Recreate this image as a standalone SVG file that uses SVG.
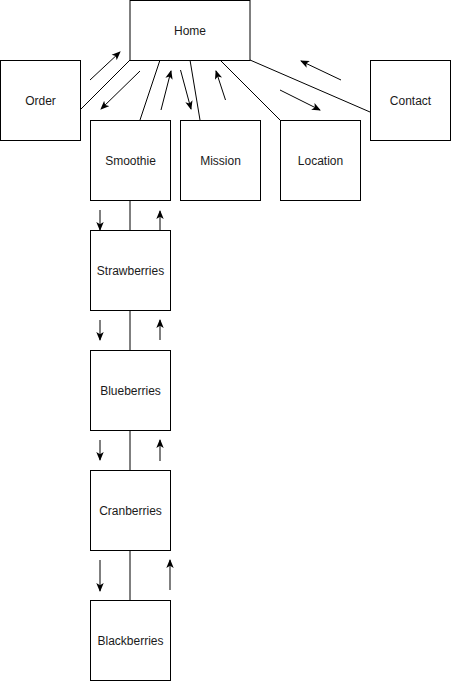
<svg xmlns="http://www.w3.org/2000/svg" width="451" height="681" viewBox="0 0 451 681">
<style>
.n rect{fill:#fff;stroke:#000;stroke-width:1}
.n text{font-family:"Liberation Sans",Arial,sans-serif;font-size:12px;fill:#1a1a1a;text-anchor:middle;dominant-baseline:central}
.c line{stroke:#000;stroke-width:1;fill:none}
.c line.a{marker-end:url(#ah)}
</style>
<defs>
<marker id="ah" viewBox="0 0 9 8" markerWidth="9" markerHeight="8" refX="8" refY="4" orient="auto" markerUnits="userSpaceOnUse">
<path d="M0,0.3 L9,4 L0,7.7 L2.2,4 Z" fill="#000"/>
</marker>
</defs>
<rect width="451" height="681" fill="#fff"/>
<g class="c" id="connectors">
<line x1="130" y1="60" x2="80" y2="110"/>
<line x1="160" y1="60" x2="140" y2="120"/>
<line x1="190" y1="60" x2="200" y2="120"/>
<line x1="220" y1="60" x2="280" y2="120"/>
<line x1="250" y1="60" x2="370" y2="112"/>
<line x1="130" y1="200" x2="130" y2="230"/>
<line x1="130" y1="310" x2="130" y2="350"/>
<line x1="130" y1="430" x2="130" y2="470"/>
<line x1="130" y1="550" x2="130" y2="600"/>
<line class="a" x1="90" y1="80" x2="120" y2="52"/>
<line class="a" x1="140" y1="71" x2="101" y2="109"/>
<line class="a" x1="161" y1="110" x2="171" y2="71"/>
<line class="a" x1="180.5" y1="70" x2="191" y2="109"/>
<line class="a" x1="225.5" y1="100" x2="216" y2="71"/>
<line class="a" x1="280" y1="90" x2="320" y2="110"/>
<line class="a" x1="341" y1="80" x2="301" y2="61"/>
<line class="a" x1="100" y1="210" x2="100" y2="230"/>
<line class="a" x1="160" y1="230" x2="160" y2="211"/>
<line class="a" x1="100" y1="320" x2="100" y2="340"/>
<line class="a" x1="160" y1="340" x2="160" y2="320"/>
<line class="a" x1="100" y1="440" x2="100" y2="460"/>
<line class="a" x1="160" y1="461" x2="160" y2="440"/>
<line class="a" x1="100" y1="560" x2="100" y2="591"/>
<line class="a" x1="170" y1="590" x2="170" y2="560"/>
</g>
<g class="n" id="home"><rect x="130" y="0.5" width="120" height="60"/><text x="190" y="30.5">Home</text></g>
<g class="n" id="order"><rect x="0.5" y="60.5" width="80" height="80"/><text x="40.5" y="100.5">Order</text></g>
<g class="n" id="smoothie"><rect x="90.5" y="120.5" width="80" height="80"/><text x="130.5" y="160.5">Smoothie</text></g>
<g class="n" id="mission"><rect x="180.5" y="120.5" width="80" height="80"/><text x="220.5" y="160.5">Mission</text></g>
<g class="n" id="location"><rect x="280.5" y="120.5" width="80" height="80"/><text x="320.5" y="160.5">Location</text></g>
<g class="n" id="contact"><rect x="370.5" y="60.5" width="80" height="80"/><text x="410.5" y="100.5">Contact</text></g>
<g class="n" id="strawberries"><rect x="90.5" y="230.5" width="80" height="80"/><text x="130.5" y="270.5">Strawberries</text></g>
<g class="n" id="blueberries"><rect x="90.5" y="350.5" width="80" height="80"/><text x="130.5" y="390.5">Blueberries</text></g>
<g class="n" id="cranberries"><rect x="90.5" y="470.5" width="80" height="80"/><text x="130.5" y="510.5">Cranberries</text></g>
<g class="n" id="blackberries"><rect x="90.5" y="600.5" width="80" height="80"/><text x="130.5" y="640.5">Blackberries</text></g>
</svg>
